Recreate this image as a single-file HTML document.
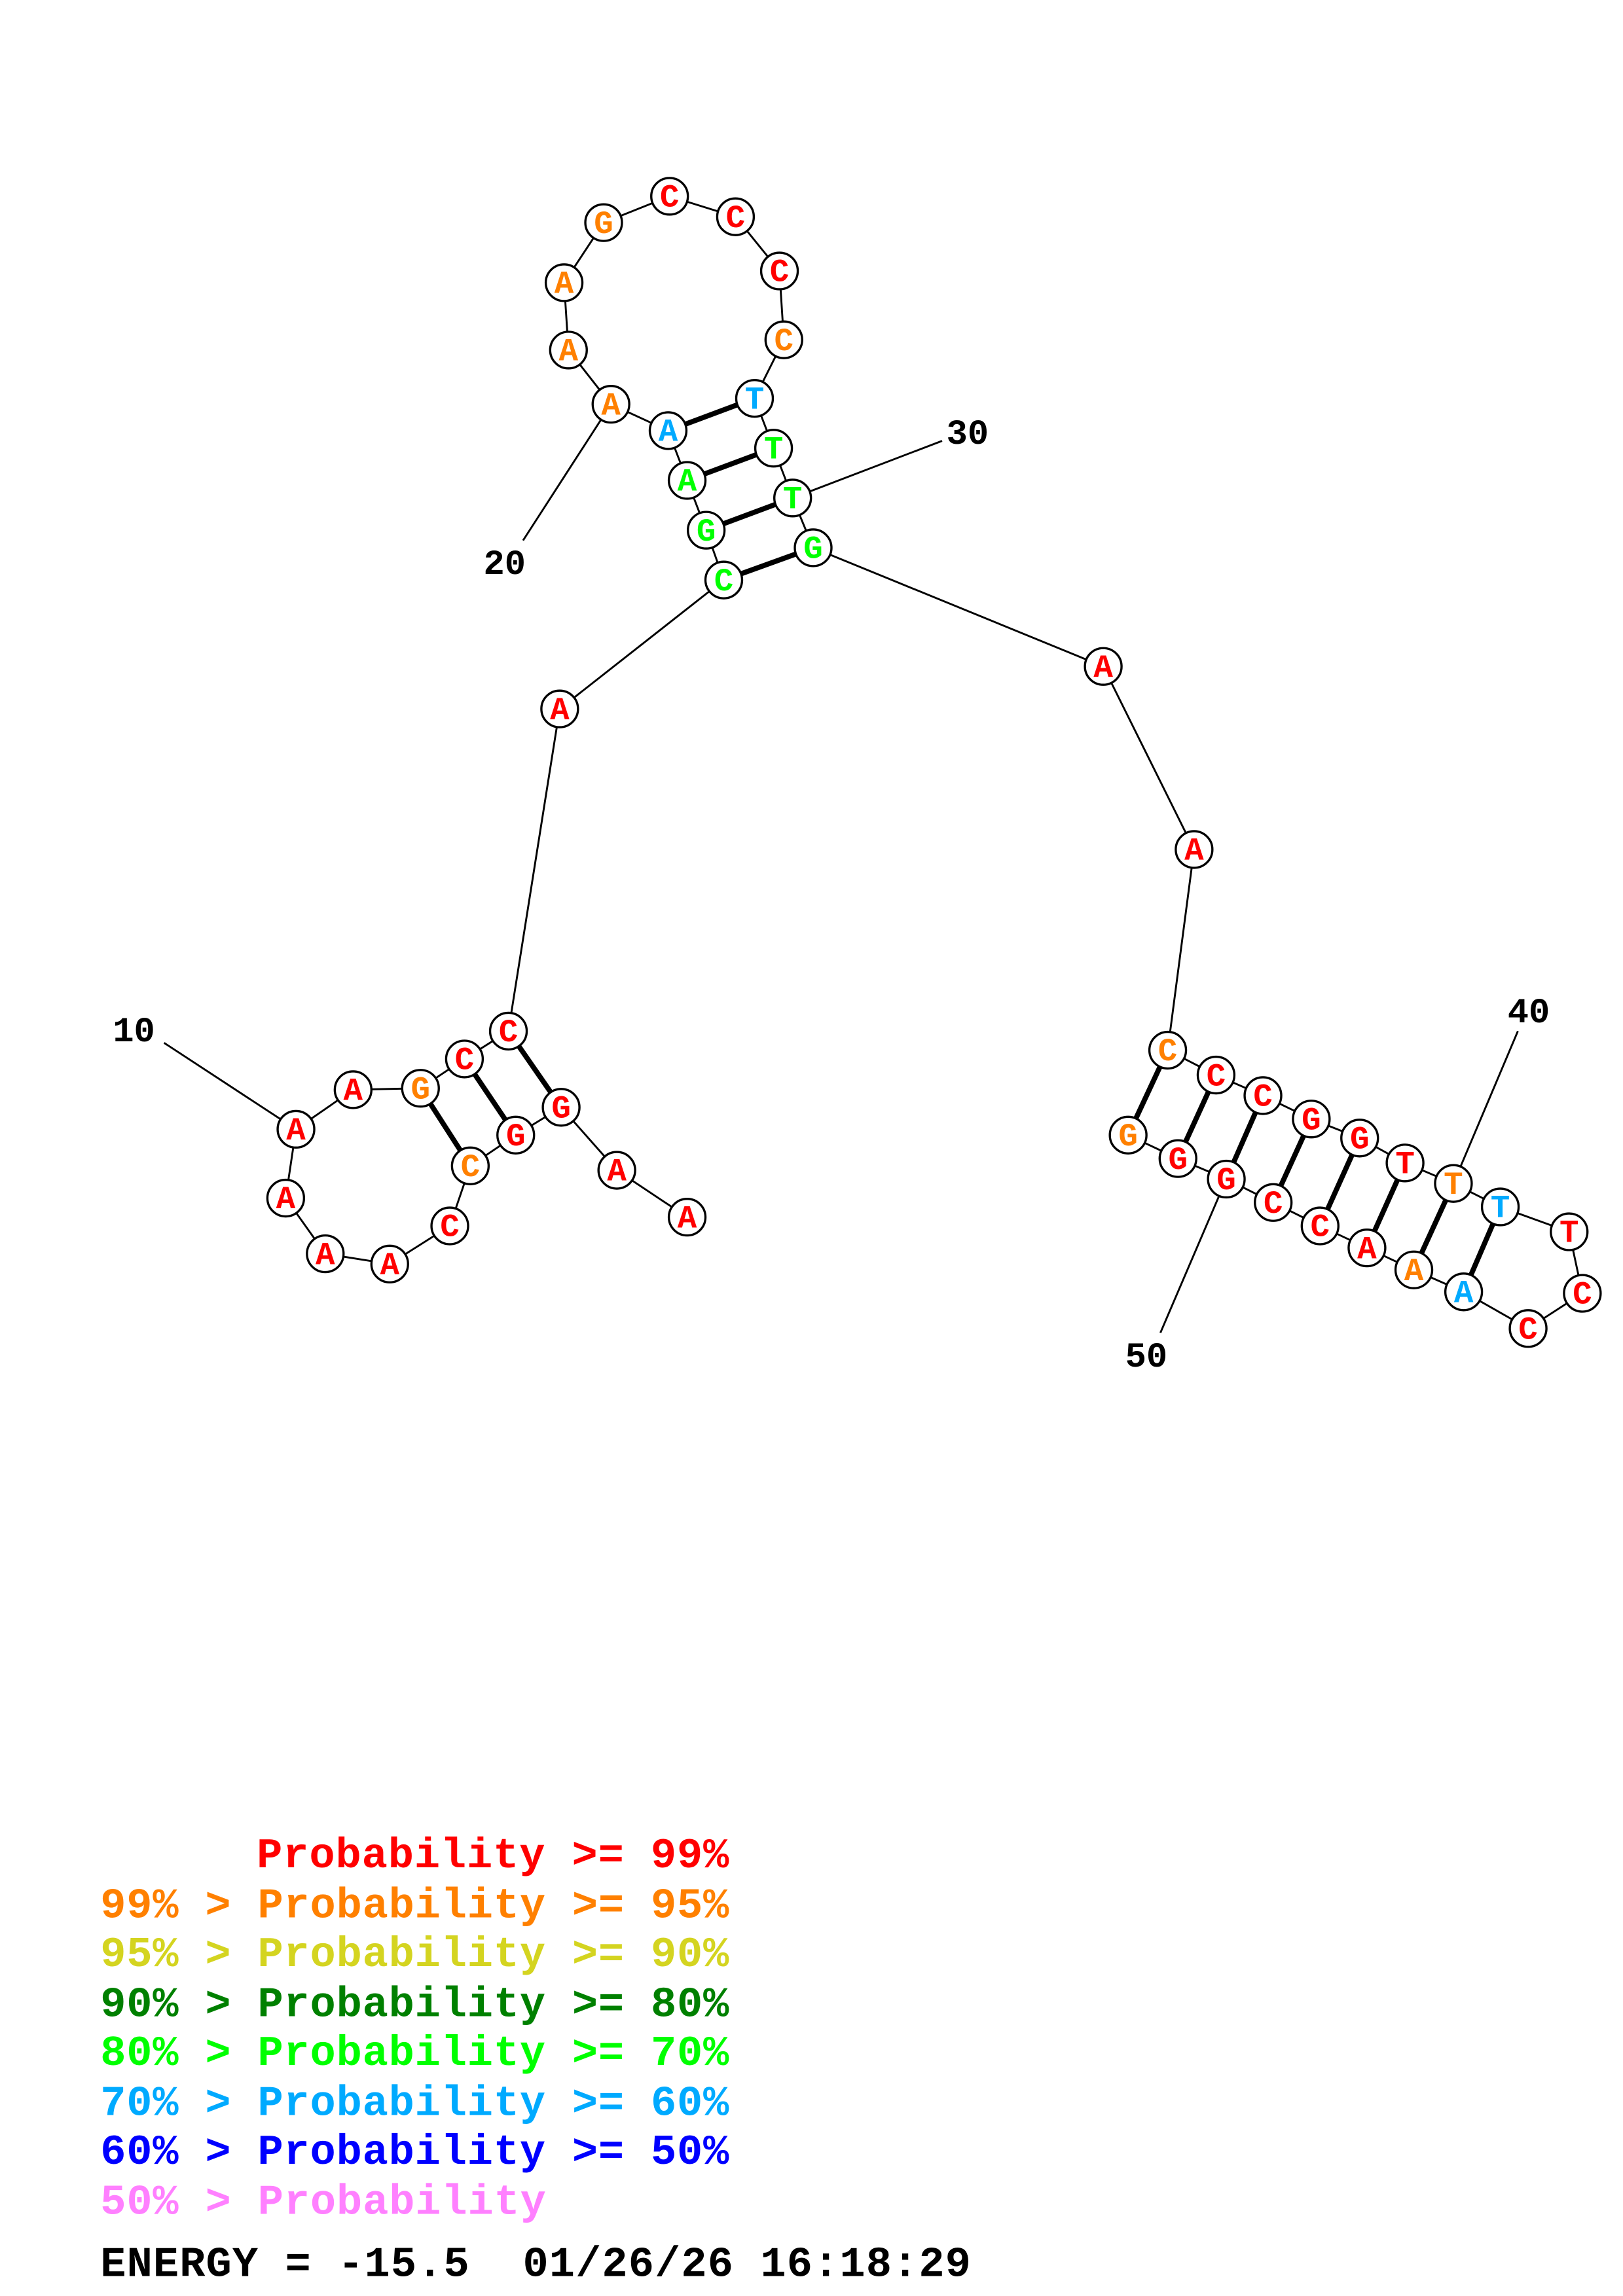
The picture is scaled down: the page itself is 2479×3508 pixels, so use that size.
<!DOCTYPE html>
<html><head><meta charset="utf-8"><style>html,body{margin:0;padding:0;background:#fff}svg{display:block}
.c{fill:#fff;stroke:#000;stroke-width:1.5}
.t{font-family:"Liberation Mono",monospace;font-weight:bold;font-size:22px;text-anchor:middle}
.R{fill:#ff0000}.O{fill:#ff8000}.G{fill:#00ff00}.B{fill:#00aaff}
.p{stroke:#000;stroke-width:3.5}
</style></head>
<body>
<svg width="2479" height="3508" viewBox="0 0 1100 1556.6" xmlns="http://www.w3.org/2000/svg">
<rect width="1100" height="1556.6" fill="#fff"/>
<g transform="scale(0.993)">
<g font-family="Liberation Mono, monospace" font-weight="bold" font-size="24" fill="#000">
<line x1="112" y1="712" x2="202" y2="771" stroke="#000" stroke-width="1.3"/>
<text x="77" y="711">10</text>
<line x1="357" y1="369" x2="417" y2="276" stroke="#000" stroke-width="1.3"/>
<text x="330" y="392">20</text>
<line x1="643" y1="301" x2="541" y2="340" stroke="#000" stroke-width="1.3"/>
<text x="646" y="303">30</text>
<line x1="1036" y1="704" x2="992" y2="808" stroke="#000" stroke-width="1.3"/>
<text x="1029" y="698">40</text>
<line x1="792" y1="910" x2="837" y2="805" stroke="#000" stroke-width="1.3"/>
<text x="768" y="933">50</text>
</g>
<polyline fill="none" stroke="#000" stroke-width="1.3" points="469,831 421,799 383,756 352,775 321,796 307,837 266,863 222,856 195,818 202,771 241,744 287,743 317,723 347,704 382,484 494,396 482,362 469,328 456,294 417,276 388,239 385,193 412,152 457,134 502,148 532,185 535,232 515,272 528,306 541,340 555,374 753,455 815,580 797,717 830,734 862,748 895,764 928,777 959,794 992,808 1024,824 1071,841 1080,883 1043,907 999,882 965,867 933,852 901,837 869,821 837,805 804,791 770,775"/>
<g class="p">
<line x1="383" y1="756" x2="347" y2="704"/>
<line x1="352" y1="775" x2="317" y2="723"/>
<line x1="321" y1="796" x2="287" y2="743"/>
<line x1="494" y1="396" x2="555" y2="374"/>
<line x1="482" y1="362" x2="541" y2="340"/>
<line x1="469" y1="328" x2="528" y2="306"/>
<line x1="456" y1="294" x2="515" y2="272"/>
<line x1="797" y1="717" x2="770" y2="775"/>
<line x1="830" y1="734" x2="804" y2="791"/>
<line x1="862" y1="748" x2="837" y2="805"/>
<line x1="895" y1="764" x2="869" y2="821"/>
<line x1="928" y1="777" x2="901" y2="837"/>
<line x1="959" y1="794" x2="933" y2="852"/>
<line x1="992" y1="808" x2="965" y2="867"/>
<line x1="1024" y1="824" x2="999" y2="882"/>
</g>
<g>
<circle class="c" cx="469" cy="831" r="12.5"/><text class="t R" x="469" y="838">A</text>
<circle class="c" cx="421" cy="799" r="12.5"/><text class="t R" x="421" y="806">A</text>
<circle class="c" cx="383" cy="756" r="12.5"/><text class="t R" x="383" y="763">G</text>
<circle class="c" cx="352" cy="775" r="12.5"/><text class="t R" x="352" y="782">G</text>
<circle class="c" cx="321" cy="796" r="12.5"/><text class="t O" x="321" y="803">C</text>
<circle class="c" cx="307" cy="837" r="12.5"/><text class="t R" x="307" y="844">C</text>
<circle class="c" cx="266" cy="863" r="12.5"/><text class="t R" x="266" y="870">A</text>
<circle class="c" cx="222" cy="856" r="12.5"/><text class="t R" x="222" y="863">A</text>
<circle class="c" cx="195" cy="818" r="12.5"/><text class="t R" x="195" y="825">A</text>
<circle class="c" cx="202" cy="771" r="12.5"/><text class="t R" x="202" y="778">A</text>
<circle class="c" cx="241" cy="744" r="12.5"/><text class="t R" x="241" y="751">A</text>
<circle class="c" cx="287" cy="743" r="12.5"/><text class="t O" x="287" y="750">G</text>
<circle class="c" cx="317" cy="723" r="12.5"/><text class="t R" x="317" y="730">C</text>
<circle class="c" cx="347" cy="704" r="12.5"/><text class="t R" x="347" y="711">C</text>
<circle class="c" cx="382" cy="484" r="12.5"/><text class="t R" x="382" y="491">A</text>
<circle class="c" cx="494" cy="396" r="12.5"/><text class="t G" x="494" y="403">C</text>
<circle class="c" cx="482" cy="362" r="12.5"/><text class="t G" x="482" y="369">G</text>
<circle class="c" cx="469" cy="328" r="12.5"/><text class="t G" x="469" y="335">A</text>
<circle class="c" cx="456" cy="294" r="12.5"/><text class="t B" x="456" y="301">A</text>
<circle class="c" cx="417" cy="276" r="12.5"/><text class="t O" x="417" y="283">A</text>
<circle class="c" cx="388" cy="239" r="12.5"/><text class="t O" x="388" y="246">A</text>
<circle class="c" cx="385" cy="193" r="12.5"/><text class="t O" x="385" y="200">A</text>
<circle class="c" cx="412" cy="152" r="12.5"/><text class="t O" x="412" y="159">G</text>
<circle class="c" cx="457" cy="134" r="12.5"/><text class="t R" x="457" y="141">C</text>
<circle class="c" cx="502" cy="148" r="12.5"/><text class="t R" x="502" y="155">C</text>
<circle class="c" cx="532" cy="185" r="12.5"/><text class="t R" x="532" y="192">C</text>
<circle class="c" cx="535" cy="232" r="12.5"/><text class="t O" x="535" y="239">C</text>
<circle class="c" cx="515" cy="272" r="12.5"/><text class="t B" x="515" y="279">T</text>
<circle class="c" cx="528" cy="306" r="12.5"/><text class="t G" x="528" y="313">T</text>
<circle class="c" cx="541" cy="340" r="12.5"/><text class="t G" x="541" y="347">T</text>
<circle class="c" cx="555" cy="374" r="12.5"/><text class="t G" x="555" y="381">G</text>
<circle class="c" cx="753" cy="455" r="12.5"/><text class="t R" x="753" y="462">A</text>
<circle class="c" cx="815" cy="580" r="12.5"/><text class="t R" x="815" y="587">A</text>
<circle class="c" cx="797" cy="717" r="12.5"/><text class="t O" x="797" y="724">C</text>
<circle class="c" cx="830" cy="734" r="12.5"/><text class="t R" x="830" y="741">C</text>
<circle class="c" cx="862" cy="748" r="12.5"/><text class="t R" x="862" y="755">C</text>
<circle class="c" cx="895" cy="764" r="12.5"/><text class="t R" x="895" y="771">G</text>
<circle class="c" cx="928" cy="777" r="12.5"/><text class="t R" x="928" y="784">G</text>
<circle class="c" cx="959" cy="794" r="12.5"/><text class="t R" x="959" y="801">T</text>
<circle class="c" cx="992" cy="808" r="12.5"/><text class="t O" x="992" y="815">T</text>
<circle class="c" cx="1024" cy="824" r="12.5"/><text class="t B" x="1024" y="831">T</text>
<circle class="c" cx="1071" cy="841" r="12.5"/><text class="t R" x="1071" y="848">T</text>
<circle class="c" cx="1080" cy="883" r="12.5"/><text class="t R" x="1080" y="890">C</text>
<circle class="c" cx="1043" cy="907" r="12.5"/><text class="t R" x="1043" y="914">C</text>
<circle class="c" cx="999" cy="882" r="12.5"/><text class="t B" x="999" y="889">A</text>
<circle class="c" cx="965" cy="867" r="12.5"/><text class="t O" x="965" y="874">A</text>
<circle class="c" cx="933" cy="852" r="12.5"/><text class="t R" x="933" y="859">A</text>
<circle class="c" cx="901" cy="837" r="12.5"/><text class="t R" x="901" y="844">C</text>
<circle class="c" cx="869" cy="821" r="12.5"/><text class="t R" x="869" y="828">C</text>
<circle class="c" cx="837" cy="805" r="12.5"/><text class="t R" x="837" y="812">G</text>
<circle class="c" cx="804" cy="791" r="12.5"/><text class="t R" x="804" y="798">G</text>
<circle class="c" cx="770" cy="775" r="12.5"/><text class="t O" x="770" y="782">G</text>
</g>
</g>
<g font-family="Liberation Mono, monospace" font-weight="bold" font-size="29">
<text x="174" y="1266" fill="#ff0000" textLength="320">Probability &gt;= 99%</text>
<text x="68" y="1300" fill="#ff8000" textLength="426">99% &gt; Probability &gt;= 95%</text>
<text x="68" y="1333" fill="#d4d420" textLength="426">95% &gt; Probability &gt;= 90%</text>
<text x="68" y="1367" fill="#008000" textLength="426">90% &gt; Probability &gt;= 80%</text>
<text x="68" y="1400" fill="#00ff00" textLength="426">80% &gt; Probability &gt;= 70%</text>
<text x="68" y="1434" fill="#00aaff" textLength="426">70% &gt; Probability &gt;= 60%</text>
<text x="68" y="1467" fill="#0000ff" textLength="426">60% &gt; Probability &gt;= 50%</text>
<text x="68" y="1501" fill="#ff80ff" textLength="302">50% &gt; Probability</text>
<text x="68" y="1543" fill="#000" textLength="590">ENERGY = -15.5&#160; 01/26/26 16:18:29</text>
</g>
</svg>
</body></html>
